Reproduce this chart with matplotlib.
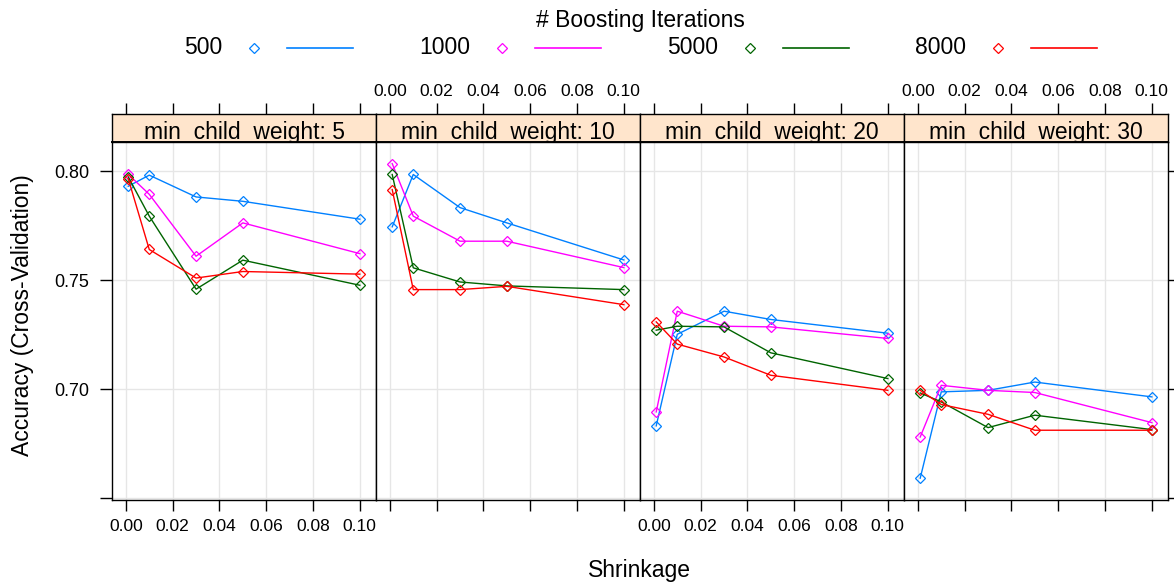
import matplotlib
matplotlib.use('Agg')
import matplotlib.pyplot as plt
from matplotlib.lines import Line2D
from matplotlib.textpath import TextPath
from matplotlib.font_manager import FontProperties

plt.rcParams['font.family'] = ['Liberation Sans', 'DejaVu Sans']

# ---------------- data ----------------
shrinkage = [0.001, 0.01, 0.03, 0.05, 0.1]
min_child_weight = [5, 10, 20, 30]
iterations = ['500', '1000', '5000', '8000']
colors = ['#0080ff', '#ff00ff', '#006400', '#ff0000']

# accuracy per min_child_weight panel, rows = 500, 1000, 5000, 8000 iterations
acc_w5 = [
    [0.7931, 0.7982, 0.7882, 0.7862, 0.7780],
    [0.7986, 0.7894, 0.7610, 0.7763, 0.7622],
    [0.7974, 0.7794, 0.7459, 0.7592, 0.7477],
    [0.7966, 0.7641, 0.7510, 0.7540, 0.7528],
]
acc_w10 = [
    [0.7745, 0.7985, 0.7833, 0.7763, 0.7593],
    [0.8035, 0.7794, 0.7679, 0.7679, 0.7558],
    [0.7985, 0.7557, 0.7492, 0.7474, 0.7457],
    [0.7916, 0.7457, 0.7457, 0.7472, 0.7388],
]
acc_w20 = [
    [0.6832, 0.7252, 0.7358, 0.7320, 0.7257],
    [0.6896, 0.7358, 0.7289, 0.7286, 0.7233],
    [0.7271, 0.7289, 0.7286, 0.7167, 0.7049],
    [0.7309, 0.7207, 0.7148, 0.7064, 0.6995],
]
acc_w30 = [
    [0.6592, 0.6988, 0.6995, 0.7033, 0.6965],
    [0.6781, 0.7018, 0.6995, 0.6985, 0.6847],
    [0.6983, 0.6942, 0.6824, 0.6881, 0.6815],
    [0.6995, 0.6930, 0.6885, 0.6812, 0.6812],
]
panels = [acc_w5, acc_w10, acc_w20, acc_w30]

x_ticks = [0.00, 0.02, 0.04, 0.06, 0.08, 0.10]
x_ticklabels = ['0.00', '0.02', '0.04', '0.06', '0.08', '0.10']
y_ticks = [0.65, 0.70, 0.75, 0.80]
y_ticklabels = ['', '0.70', '0.75', '0.80']

# ---------------- layout ----------------
W, H = 1174, 584
fig = plt.figure(figsize=(W / 100, H / 100), dpi=100)

panel_left = 112
panel_w = 264
panel_top = 142
panel_bot = 500
strip_h = 28

xlim = (-0.00593, 0.10693)
ylim = (0.6492, 0.8134)
grid_col = '#e6e6e6'

strip_fs = 16.5
strip_fs_px = strip_fs * 100 / 72
# the strip label's underscores sit on the strip's lower border (as in lattice)
us_top = TextPath((0, 0), '_', size=1,
                  prop=FontProperties(family='Liberation Sans')).get_extents().y1
baseline_px = max(-us_top * strip_fs_px, 0.0) + 0.3

for i, (w, data) in enumerate(zip(min_child_weight, panels)):
    x0 = panel_left + i * panel_w
    ax = fig.add_axes([x0 / W, (H - panel_bot) / H, panel_w / W,
                       (panel_bot - panel_top) / H])
    for row, col in zip(data, colors):
        ax.plot(shrinkage, row, color=col, lw=1.0, marker='D', ms=4.6,
                mfc='none', mec=col, mew=0.9, zorder=3)
    ax.set_xlim(*xlim)
    ax.set_ylim(*ylim)
    ax.set_xticks(x_ticks)
    ax.set_yticks(y_ticks)
    ax.grid(True, color=grid_col, lw=1.0, zorder=0)
    ax.set_axisbelow(True)
    for s in ax.spines.values():
        s.set_color('black')
        s.set_linewidth(1.0)
    ax.tick_params(axis='x', direction='out', length=8, width=1.0,
                   labelsize=12.5, pad=6, top=False,
                   labelbottom=(i in (0, 2)))
    if i in (0, 2):
        ax.set_xticklabels(x_ticklabels)
    ax.tick_params(axis='y', direction='out', length=8.6, width=1.0,
                   labelsize=13, pad=8,
                   left=(i == 0), labelleft=(i == 0),
                   right=(i == 3), labelright=False)
    if i == 0:
        ax.set_yticklabels(y_ticklabels)

    # strip
    st = fig.add_axes([x0 / W, (H - panel_top) / H, panel_w / W, strip_h / H],
                      sharex=ax)
    st.set_facecolor('#ffe5cc')
    st.set_ylim(0, 1)
    st.set_yticks([])
    for s in st.spines.values():
        s.set_color('black')
        s.set_linewidth(1.0)
        s.set_zorder(5)
    st.spines['bottom'].set_linewidth(1.4)
    st.tick_params(axis='x', direction='out', length=8, width=1.0,
                   labelsize=12.5, pad=3, bottom=False, labelbottom=False,
                   top=True, labeltop=(i in (1, 3)))
    st.text(0.5, baseline_px / strip_h, f'min_child_weight: {w}', ha='center',
            va='baseline', fontsize=strip_fs, color='black', zorder=2,
            transform=st.transAxes, clip_on=True)

# axis labels
fig.text(23 / W, 1 - 315 / H, 'Accuracy (Cross-Validation)', rotation=90,
         ha='center', va='center', fontsize=16.5)
fig.text(639 / W, 1 - 570 / H, 'Shrinkage', ha='center', va='center',
         fontsize=16.5)

# legend
fig.text(640 / W, 1 - 20 / H, '# Boosting Iterations', ha='center',
         va='center', fontsize=16.5)
leg_y = 1 - 48 / H
for k, (lab, col) in enumerate(zip(iterations, colors)):
    off = 248 * k
    fig.text((222 + off) / W, leg_y, lab, ha='right', va='center',
             fontsize=16.5)
    fig.add_artist(Line2D([(254 + off) / W], [leg_y], transform=fig.transFigure,
                          marker='D', ms=4.6, mfc='none', mec=col, mew=0.9,
                          lw=0))
    fig.add_artist(Line2D([(287 + off) / W, (353 + off) / W], [leg_y, leg_y],
                          transform=fig.transFigure, color=col, lw=1.2))

fig.savefig('out.png', dpi=100)
